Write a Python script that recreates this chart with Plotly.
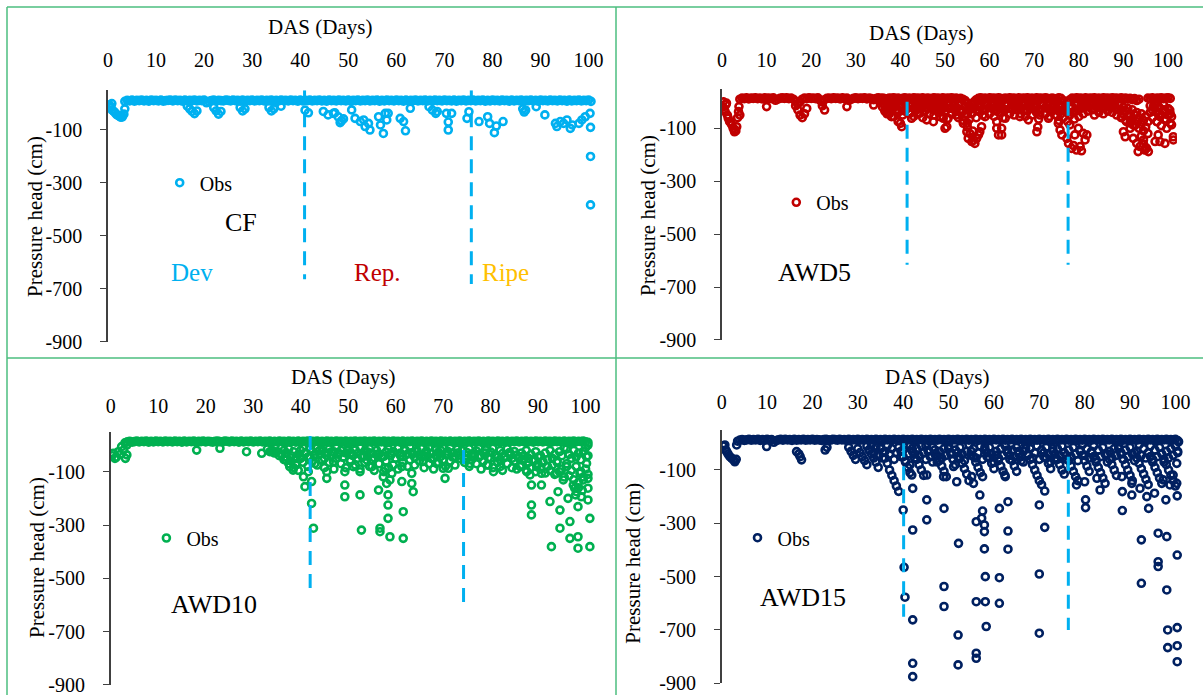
import plotly.graph_objects as go

W, H = 1203, 695
FONT = "Liberation Serif"

# ---------------- shared ticks / titles ----------------
day_ticks = [0, 10, 20, 30, 40, 50, 60, 70, 80, 90, 100]
head_ticks = [-100, -300, -500, -700, -900]
head_tick_text = ["-100", "-300", "-500", "-700", "-900"]
x_title = "DAS (Days)"
y_title = "Pressure head (cm)"

# ---------------- CF ----------------
cf_band_start = 3.5
cf_band = [8, 12, 10, 13, 9, 12, 11, 13, 10, 12, 9, 13, 11, 12, 10, 13, 9, 11, 12, 13,
           10, 13, 11, 12, 9, 13, 10, 12, 11, 13, 10, 12, 11, 13, 3, 8, 11, 13, 10, 12,
           11, 10, 13, 12, 10, 13, 11, 12, 9, 13, 10, 12, 11, 13, 10, 12, 11, 13, 10, 12,
           11, 13, 9, 12, 10, 13, 11, 12, 10, 13, 11, 12, 9, 13, 10, 12, 11, 13, 10, 12,
           11, 13, 10, 12, 9, 13, 11, 12, 10, 13, 11, 12, 10, 13, 9, 12, 11, 13, 10, 12,
           11, 13, 10, 12, 11, 13, 9, 12, 10, 13, 11, 12, 10, 13, 11, 12, 9, 13, 10, 12,
           11, 13, 10, 12, 11, 13, 10, 12, 9, 13, 11, 12, 10, 13, 11, 12, 10, 13, 9, 12,
           11, 13, 10, 12, 11, 13, 10, 12, 11, 13, 9, 12, 10, 13, 11, 12, 10, 13, 11, 12,
           9, 13, 10, 12, 11, 13, 10, 12, 11, 13, 10, 12, 9, 13, 11, 12, 10, 13, 11, 12,
           10, 13, 11, 12, 9, 13, 10, 12, 11, 13, 10, 12, 11, 13, 8]
cf_x = [0.3, 0.6, 0.8, 0.9, 1.2, 1.5, 1.8, 2.1, 2.4, 2.7, 3.0, 3.3, 3.5,
        16.5, 17, 17.5, 18, 18.5, 22, 22.5, 23, 23.5, 27.5, 28, 28.5, 33.5, 34, 34.5, 36,
        41, 41.7, 44.8, 45.8, 46.9, 47.2, 47.9, 48.3, 48.6, 49,
        50.7, 51.4, 52.5, 53.2, 53.5, 54.2, 54.5,
        56.3, 56.7, 57.3, 57.7, 58, 58.3,
        60.8, 61.5, 61.9, 62.9,
        66.8, 67.5, 68.2, 68.5,
        70.4, 70.8, 70.8, 71.5,
        74.7, 75.1,
        77.2, 79, 79.4, 80.4, 80.8, 82.2,
        86.3, 86.6, 86.9,
        89.1, 90.9,
        93.1, 93.4, 94.1, 94.8, 95.5, 96.2, 96.6,
        98, 98.6, 99.3,
        100.3, 100.4, 100.4, 100.4]
cf_y = [-5, -15, 0, -25, -30, -35, -42, -45, -48, -52, -50, -40, -20,
        -10, -20, -30, -38, -28, -15, -28, -40, -30, -15, -28, -20, -15, -28, -20, -10,
        -25, -35, -30, -43, -37, -35, -50, -72, -65, -58,
        -24, -56, -68, -62, -87, -75, -100,
        -50, -81, -113, -37, -62, -37,
        -56, -68, -103, -18,
        -12, -25, -37, -30,
        -37, -70, -100, -37,
        -56, -31,
        -68, -50, -75, -110, -85, -68,
        -20, -32, -25,
        -12, -43,
        -75, -87, -68, -75, -62, -94, -81,
        -75, -62, -50,
        -37, -90, -200, -383]
cf_stage_x = [40.9, 75.6]
cf_stage_top = [50, 50]
cf_stage_bottom = [-664, -682]

# ---------------- AWD5 ----------------
aw5_band_start = 4.0
aw5_band = [10, 14, 12, 15, 11, 14, 13, 15, 12, 14, 11, 15, 13, 14, 12, 15, 6, 10, 13, 15,
            13, 15, 12, 14, 10, 2, -8, 0, 10, 14, 12, 15, 13, 14, 12, 15, 6, 0, 8, 13,
            14, 12, 15, 13, 14, 11, 15, 12, 14, 6, 10, 13, 15, 12, 14, 13, 15, 11, 14, 12,
            8, 12, 15, 13, 14, 12, 10, 14, 13, 15, 12, 14, 10, 13, 15, 12, 14, 11, 15, 13,
            14, 12, 15, 11, 14, 13, 12, 15, 13, 14, 11, 15, 12, 14, 13, 15, 12, 14, 11, 13,
            10, 5, -5, -15, -10, 0, 8, 13, 15, 12, 14, 11, 15, 13, 14, 12, 15, 13, 11, 14,
            12, 15, 13, 14, 11, 15, 12, 14, 13, 15, 12, 14, 11, 15, 13, 14, 12, 15, 13, 11,
            14, 12, 10, 15, 13, 5, -10, 0, 8, 14, 12, 15, 13, 14, 11, 15, 12, 14, 13, 15,
            12, 14, 11, 15, 13, 14, 12, 15, 13, 14, 11, 15, 12, 14, 10, 13, 8, 12, 5, 10,
            -130, -160, -175, 14, 12, 15, 11, 14, 13, 15, 12, 14, 15, 13]
aw5_mid_start = 36.0
aw5_mid = [-20, -35, -15, -45, -25, -55, -30, -40, -20, -50, -35, -25, -45, -15, -55, -30, -40, -20, -60, -35,
           -25, -45, -15, -50, -30, -40, -20, -55, -35, -65, -25, -45, -15, -50, -60, -40, -70, -55, -80, -65,
           -45, -25, -60, -35, -20, -50, -30, -15, -45, -25, -55, -35, -20, -40, -60, -30, -15, -45, -25, -50,
           -30, -20, -45, -15, -55, -35, -25, -50, -20, -40, -65, -30, -15, -45, -25, -55, -35, -20, -50, -70,
           -45, -60, -30, -75, -50, -40, -65, -35, -55, -25, -45, -20, -35, -15, -30, -50, -20, -40, -25, -45,
           -20, -35, -15, -40, -25, -50, -30, -60, -45, -70, -55, -80, -65, -90, -75, -100, -85, -110, -95, -120,
           -40, -60, -25, -75, -45, -90, -30, -65, -50, -80]
aw5_mid2 = [-5, -15, -8, -25, -10, -20, -5, -30, -12, -18, -8, -25, -15, -5, -22, -10, -28, -6, -16, -12,
            -20, -8, -26, -12, -5, -18, -30, -10, -22, -6, -15, -25, -8, -20, -12, -28, -35, -18, -45, -30,
            -22, -10, -30, -15, -8, -25, -12, -5, -20, -10, -28, -15, -6, -22, -30, -12, -8, -25, -10, -18,
            -15, -6, -22, -10, -28, -16, -8, -24, -12, -20, -30, -10, -5, -22, -12, -28, -16, -8, -24, -35,
            -20, -30, -15, -40, -25, -18, -35, -12, -28, -10, -20, -8, -15, -5, -12, -25, -8, -18, -10, -22,
            -8, -15, -5, -20, -10, -25, -12, -30, -20, -35, -25, -45, -30, -50, -40, -60, -45, -70, -55, -75,
            -15, -30, -10, -40, -20, -50, -12, -35, -25, -45]
aw5_x = [0.2, 0.3, 0.5, 0.7, 0.9, 1.0, 1.2, 1.4, 1.7, 2.0, 2.2, 2.5, 2.8, 2.9, 3.1, 3.3, 3.5, 3.7, 3.8, 4.0,
         10, 16.5, 17, 17.5, 18, 18.5, 19, 22.5, 23, 28, 34,
         37, 38, 39.5, 40, 40.3, 42.5, 44.4, 45.9, 47.4, 48.9, 49.6, 50, 50.4, 50.7,
         54.1, 54.9, 55.2, 55.6, 56, 56.4, 56.7, 57.1, 57.5, 57.8, 58.2, 59, 55, 56.2,
         61.6, 61.6, 62, 62.7, 62.7, 63.5, 66.8, 68.7, 70.6, 70.8, 71.3, 73.2,
         75.4, 75.8, 76.2, 77.3, 77.7, 78, 78.4, 78.8, 79.1, 79.5, 79.9, 80.3, 80.6, 81, 81.4, 81.8,
         89.6, 90, 90.4, 90.7, 91.5, 92.2, 92.2, 93, 93.3, 93.7, 94.5, 94.8, 95.2, 95.6,
         96.7, 97.1, 97.5, 97.8, 98.2, 98.2, 99.3, 99.7, 100.4, 100.8, 100.8, 101.2, 101.2]
aw5_y = [-20, 0, -30, -37, -10, -5, -50, -62, -75, -80, -87, -100, -113, -105, -110, -94, -60, -37, -18, -50,
         -18, -15, -30, -50, -60, -45, -25, -15, -31, -18, -12,
         -45, -56, -75, -81, -94, -62, -43, -68, -75, -56, -62, -100, -94, -62,
         -81, -113, -138, -120, -150, -145, -157, -138, -125, -113, -94, -56, -95, -110,
         -75, -100, -125, -100, -125, -62, -56, -68, -113, -95, -50, -62,
         -81, -106, -125, -138, -157, -87, -176, -165, -125, -182, -100, -169, -185, -119, -144, -125,
         -56, -113, -132, -75, -100, -138, -87, -157, -188, -169, -144, -182, -175, -188,
         -18, -150, -75, -125, -150, -56, -157, -100, -31, -87, -56, -144, -132]
aw5_stage_x = [41.5, 77.6]
aw5_stage_top = [0, 0]
aw5_stage_bottom = [-616, -616]

# ---------------- AWD10 ----------------
aw10_band_start = 3.0
aw10_band = [8, 12, 14, 11, 13, 15, 12, 14, 13, 15, 11, 14, 12, 15, 13, 14, 12, 15, 13, 14,
             12, 15, 13, 14, 11, 15, 12, 14, 13, 15, 12, 14, 13, 15, 12, 14, 13, 11, 14, 15,
             13, 12, 15, 14, 12, 15, 13, 14, 11, 15, 12, 14, 13, 15, 12, 14, 13, 15, 12, 14,
             13, 15, 11, 14, 12, 15, 13, 14, 12, 15, 13, 14, 11, 15, 12, 14, 13, 15, 12, 14,
             13, 15, 12, 14, 11, 15, 13, 14, 12, 15, 13, 14, 12, 15, 11, 14, 13, 15, 12, 14,
             13, 15, 12, 14, 13, 15, 11, 14, 12, 15, 13, 14, 12, 15, 13, 14, 11, 15, 12, 14,
             13, 15, 12, 14, 13, 15, 12, 14, 11, 15, 13, 14, 12, 15, 13, 14, 12, 15, 11, 14,
             13, 15, 12, 14, 13, 15, 12, 14, 13, 15, 11, 14, 12, 15, 13, 14, 12, 15, 13, 14,
             11, 15, 12, 14, 13, 15, 12, 14, 13, 15, 12, 14, 11, 15, 13, 14, 12, 15, 13, 14,
             12, 15, 13, 14, 11, 15, 12, 14, 13, 15, 12, 14, 13, 15, 12, 10]
aw10_mid_start = 33.0
aw10_mid = [-15, -25, -20, -30, -25, -40, -35, -55, -45, -70, -60, -85, -75, -95, -50, -65, -30, -80, -45, -60,
            -35, -75, -20, -55, -85, -40, -65, -25, -90, -50, -30, -70, -45, -85, -20, -60, -35, -75, -50, -90,
            -40, -65, -25, -80, -55, -95, -35, -70, -45, -100, -60, -85, -30, -75, -50, -90, -40, -65, -20, -80,
            -55, -35, -75, -25, -60, -45, -85, -30, -70, -50, -90, -40, -65, -20, -55, -80, -35, -60, -45, -75,
            -30, -50, -20, -65, -40, -80, -55, -35, -70, -45, -90, -60, -30, -75, -50, -85, -40, -65, -55, -95,
            -45, -70, -35, -85, -60, -90, -50, -75, -40, -95, -65, -85, -55, -100, -70, -90, -60, -105, -80, -95,
            -75, -110, -65, -100, -90, -120, -70, -115, -95, -130, -80, -140, -100, -120, -90, -110]
aw10_mid2_start = 36.0
aw10_mid2 = [-10, -20, -30, -15, -40, -25, -50, -35, -20, -10, -30, -45, -15, -25, -40, -10, -35, -20, -50, -30,
             -15, -40, -25, -10, -35, -20, -45, -30, -12, -28, -40, -18, -32, -8, -45, -22, -38, -14, -30, -48,
             -20, -35, -10, -42, -26, -16, -38, -24, -50, -12, -30, -44, -18, -34, -8, -28, -46, -20, -36, -14,
             -40, -22, -10, -32, -48, -18, -26, -42, -12, -36, -24, -8, -30, -46, -16, -38, -20, -50, -28, -14,
             -34, -44, -22, -10, -40, -30, -18, -48, -26, -12, -36, -46, -20, -32, -42, -14, -28, -50, -24, -38,
             -45, -30, -55, -20, -50, -35, -60, -25, -45, -40, -65, -30, -55, -20, -50, -35, -60, -25, -40, -10,
             -15, -35, -50, -20, -45, -30, -55, -25, -10, -40]
aw10_x = [0.3, 0.55, 0.9, 1.2, 1.6, 2.0, 2.3, 2.7, 3.1, 3.4, 3.4,
          18.1, 23, 28.6, 31.8, 33.9, 35.6, 37, 37.7, 38.4, 39.1, 39.9, 40.6, 40.9, 41.6, 42.3, 42.3, 42.7, 43,
          45.5, 45.5, 46.9, 49.3, 49.3, 49.3, 50.4, 52.5, 52.5, 52.8, 51.1, 53.9, 55,
          56.4, 56.7, 56.7, 57.4, 57.8, 58.1, 58.4, 58.4, 58.4, 58.8, 58.8, 59.2,
          61.3, 61.6, 61.6, 61.3, 63.4, 63.7, 63.4, 65.8, 68.6, 70, 70.4, 71.1, 75.6, 79.2, 80.6, 82,
          86.2, 87.6, 88.3, 88.6, 88.6, 88.6, 90.7, 90.7, 89.7, 92.5, 92.8, 93.9, 94.2, 94.6, 94.6, 95.3, 96, 96.3,
          96.7, 96.7, 97.4, 97.7, 98.1, 98.4, 98.4, 98.4, 99.1, 99.5, 98.8, 100.2, 100.5, 100.5, 100.5,
          100.9, 100.9, 100.5, 100.2, 96.7, 97.9, 99.3, 98.5]
aw10_y = [-40, -31, -50, -45, -25, -35, -6, -19, -50, -37, 0,
          -19, -12, -25, -31, -25, -31, -56, -81, -94, -69, -44, -119, -156, -100, -137, -219, -312, -69,
          -100, -125, -62, -100, -150, -194, -56, -100, -187, -319, -81, -56, -81,
          -169, -312, -325, -119, -87, -144, -187, -225, -275, -344, -131, -106,
          -137, -250, -350, -81, -144, -175, -106, -62, -69, -87, -125, -87, -69, -75, -100, -81,
          -81, -100, -112, -150, -225, -262, -106, -150, -81, -212, -381, -106, -175, -244, -312, -131, -81, -200,
          -287, -350, -150, -162, -175, -231, -344, -387, -194, -131, -106, -69, -125, -162, -206,
          -275, -381, 0, -44, 6, -187, -170, -160]
aw10_stage_x = [42.0, 74.3]
aw10_stage_top = [34, -19]
aw10_stage_bottom = [-569, -619]

# ---------------- AWD15 ----------------
aw15_band_start = 3.5
aw15_band = [8, 12, 14, 11, 13, 15, 12, 14, 13, 15, 11, 14, 12, 15, 13, 14, 4, 10, 13, 15,
             12, 15, 13, 14, 11, 15, 12, 14, 13, 15, 12, 14, 13, 15, 12, 14, 13, 11, 14, 15,
             13, 12, 15, 14, 12, 15, 13, 14, 11, 15, 12, 14, 13, 15, 12, 14, 13, 15, 12, 14,
             13, 15, 11, 14, 12, 15, 13, 14, 12, 15, 13, 14, 11, 15, 12, 14, 13, 15, 12, 14,
             13, 15, 12, 14, 11, 15, 13, 14, 12, 15, 13, 14, 12, 15, 11, 14, 13, 15, 12, 14,
             13, 15, 12, 14, 13, 15, 11, 14, 12, 15, 13, 14, 12, 15, 13, 14, 11, 15, 12, 14,
             13, 15, 12, 14, 13, 15, 12, 14, 11, 15, 13, 14, 12, 15, 13, 14, 12, 15, 11, 14,
             13, 15, 12, 14, 13, 15, 12, 14, 13, 15, 11, 14, 12, 15, 13, 14, 12, 15, 13, 14,
             11, 15, 12, 14, 13, 15, 12, 14, 13, 15, 12, 14, 11, 15, 13, 14, 12, 15, 13, 14,
             12, 15, 13, 14, 11, 15, 12, 14, 13, 15, 12, 14, 13, 15, 10]
aw15_mid_start = 28.0
aw15_mid = [-15, -30, -45, -60, -20, -35, -50, -65, -80, -25, -40, -55, -70, -90, -15, -35, -55, -75, -100, -120,
            -140, -160, -180, -30, -50, -70, -90, -110, -20, -40, -60, -80, -100, -120, -10, -30, -50, -70, -25, -45,
            -65, -85, -105, -125, -20, -40, -60, -80, -35, -55, -75, -95, -115, -140, -30, -50, -70, -90, -110, -125,
            -15, -35, -55, -75, -95, -45, -65, -85, -105, -125, -25, -45, -65, -85, -105, -30, -50, -70, -20, -40,
            -60, -80, -100, -120, -140, -155, -35, -55, -75, -95, -20, -40, -60, -80, -100, -115, -45, -65, -85, -105,
            -125, -140, -25, -45, -65, -85, -105, -30, -50, -70, -90, -110, -130, -150, -40, -60, -80, -100, -120, -20,
            -40, -60, -80, -100, -120, -140, -35, -55, -75, -95, -115, -135, -155, -50, -70, -90, -110, -130, -150, -60,
            -80, -100, -120, -140, -160, -30]
aw15_mid2_start = 32.0
aw15_mid2 = [-10, -25, -5, -35, -15, -45, -20, -55, -30, -10, -40, -20, -60, -35, -15, -50, -25, -65, -40, -10,
             -30, -55, -20, -45, -10, -35, -60, -25, -50, -15, -40, -70, -30, -55, -20, -45, -10, -35, -60, -25,
             -50, -15, -40, -65, -30, -5, -45, -20, -55, -35, -10, -60, -25, -50, -15, -40, -70, -30, -55, -20,
             -45, -10, -35, -60, -25, -50, -15, -40, -65, -30, -5, -45, -20, -55, -35, -10, -60, -25, -50, -15,
             -40, -70, -30, -55, -20, -45, -10, -35, -60, -25, -50, -15, -40, -65, -30, -5, -45, -20, -55, -35,
             -10, -60, -25, -50, -15, -40, -70, -30, -55, -20, -45, -10, -35, -60, -25, -50, -15, -40, -65, -30,
             -5, -45, -20, -55, -35, -10, -60, -25, -50, -15, -40, -70, -30, -55, -20, -45, -10, -35]
aw15_x = [0.3, 0.7, 0.9, 1.1, 1.4, 1.8, 2.2, 2.6, 2.9, 3.2, 3.3,
          9.9, 16.5, 17, 17.3, 17.6, 22.8, 23.2,
          40, 40.2, 40.4, 42.1, 42.1, 42.1, 42.1, 42.1, 41.5, 41.9, 45.2, 45.2, 45.2, 47.4, 48.9, 49, 49, 49,
          51.1, 51.8, 52.2, 52.1, 52.1, 55.1, 55.5, 56.1, 56.1, 56.1, 56.1, 56.9, 57.5, 57.3, 57.9, 57.9, 57.9,
          58.1, 58.1, 58.3,
          61.2, 61.2, 61.2, 62.4, 63.1, 63.1, 63.1, 70, 70, 70, 71.2, 71.2, 78.2, 80, 80.2, 80.2, 82.7, 83.4,
          88.2, 88.3, 88.3, 90.4, 90.4, 92.2, 92.5, 92.5, 93.7, 94.1, 95.4, 96.2, 96.2, 96.2, 97.3, 97.9,
          98.1, 98.1, 98.3, 98.3,
          98.8, 99.5, 100.3, 100.4, 100.4, 100.4, 100.4, 100.4, 100.7, 100.3]
aw15_y = [-10, -6, -25, -31, -40, -50, -56, -62, -69, -60, -6,
          -12, -31, -40, -50, -62, -25, -15,
          -250, -465, -577, -325, -662, -825, -875, -169, -81, -119, -119, -212, -287, -56, -125, -244, -537, -612,
          -87, -144, -375, -719, -831, -125, -150, -294, -594, -787, -806, -194, -254, -281, -306, -331, -396,
          -500, -594, -687,
          -244, -504, -600, -119, -219, -329, -397, -231, -490, -712, -179, -315, -156, -144, -212, -241, -131, -175,
          -125, -181, -252, -150, -194, -169, -362, -525, -200, -244, -187, -337, -444, -462, -137, -212,
          -350, -550, -700, -766,
          -156, -119, -150, -197, -419, -691, -759, -819, 6, -75]
aw15_stage_x = [40.1, 76.4]
aw15_stage_top = [0, -50]
aw15_stage_bottom = [-650, -700]

# ---------------- panel setup (pixel geometry of the reference) ----------------
X_MAX = 102
Y_MIN, Y_MAX = -900, 50


def half_day_series(start, values):
    return [start + 0.5 * j for j in range(len(values))], list(values)


panels = [
    dict(name="CF", color="#00B0F0",
         series=[(cf_band_start, cf_band)], ex_x=cf_x, ex_y=cf_y,
         sx=cf_stage_x, st=cf_stage_top, sb=cf_stage_bottom,
         x0=108, x100=588.6, ym100=130, ym900=341.7, lab_py=70.5,
         xtitle=(320, 26.7), ytitle=(35, 217), leg=(181.7, 182.7), label=(241, 222.5)),
    dict(name="AWD5", color="#C00000",
         series=[(aw5_band_start, aw5_band), (aw5_mid_start, aw5_mid), (aw5_mid_start, aw5_mid2)],
         ex_x=aw5_x, ex_y=aw5_y,
         sx=aw5_stage_x, st=aw5_stage_top, sb=aw5_stage_bottom,
         x0=722, x100=1168, ym100=128.3, ym900=340, lab_py=71,
         xtitle=(921, 33.3), ytitle=(648, 216), leg=(798.3, 202.3), label=(814.5, 272.5)),
    dict(name="AWD10", color="#00B050",
         series=[(aw10_band_start, aw10_band), (aw10_mid_start, aw10_mid), (aw10_mid2_start, aw10_mid2)],
         ex_x=aw10_x, ex_y=aw10_y,
         sx=aw10_stage_x, st=aw10_stage_top, sb=aw10_stage_bottom,
         x0=110.7, x100=585.6, ym100=471.7, ym900=685, lab_py=417,
         xtitle=(342.5, 376.7), ytitle=(37, 558), leg=(168.4, 538), label=(213.6, 604.2)),
    dict(name="AWD15", color="#002060",
         series=[(aw15_band_start, aw15_band), (aw15_mid_start, aw15_mid), (aw15_mid2_start, aw15_mid2)],
         ex_x=aw15_x, ex_y=aw15_y,
         sx=aw15_stage_x, st=aw15_stage_top, sb=aw15_stage_bottom,
         x0=721.7, x100=1175.4, ym100=470, ym900=683.3, lab_py=413,
         xtitle=(936.7, 376.7), ytitle=(632.7, 563), leg=(759.5, 537.7), label=(803, 597.5)),
]

fig = go.Figure()
layout = dict(width=W, height=H, margin=dict(l=0, r=0, t=0, b=0, pad=0, autoexpand=False),
              paper_bgcolor="white", plot_bgcolor="white",
              font=dict(family=FONT, color="black"), annotations=[], shapes=[])

for i, p in enumerate(panels):
    k = "" if i == 0 else str(i + 1)
    xa, ya = "x" + k, "y" + k
    leg = "legend" + k

    kx = (p["x100"] - p["x0"]) / 100.0
    ky = (p["ym900"] - p["ym100"]) / 800.0

    def py(v, p=p, ky=ky):
        return p["ym100"] + (-100 - v) * ky

    xdom = [p["x0"] / W, (p["x0"] + kx * X_MAX) / W]
    ydom = [1 - py(Y_MIN) / H, 1 - py(Y_MAX) / H]

    xs, ys = [], []
    for start, vals in p["series"]:
        sx_, sy_ = half_day_series(start, vals)
        xs += sx_
        ys += sy_
    xs += p["ex_x"]
    ys += p["ex_y"]

    fig.add_trace(go.Scatter(
        x=xs, y=ys, mode="markers", name="Obs", xaxis=xa, yaxis=ya, legend=leg,
        marker=dict(symbol="circle-open", size=7, color=p["color"],
                    line=dict(width=2.6, color=p["color"])),
        hoverinfo="skip"))

    for sx, st, sb in zip(p["sx"], p["st"], p["sb"]):
        fig.add_trace(go.Scatter(
            x=[sx, sx], y=[st, sb], mode="lines", xaxis=xa, yaxis=ya, showlegend=False,
            line=dict(color="#00B0F0", width=3, dash="14px,9px"), hoverinfo="skip"))

    layout["xaxis" + k] = dict(
        domain=xdom, range=[0, X_MAX], anchor="free", position=1 - p["lab_py"] / H,
        side="top", tickvals=day_ticks, ticks="", showline=False, showgrid=False,
        zeroline=False, automargin=False, tickfont=dict(family=FONT, size=20, color="black"))
    layout["yaxis" + k] = dict(
        domain=ydom, range=[Y_MIN, Y_MAX], anchor=xa, tickvals=head_ticks, ticktext=head_tick_text,
        ticks="outside", ticklen=6, tickcolor="#404040", tickwidth=1.3,
        showline=True, linecolor="#404040", linewidth=1.5, showgrid=False, zeroline=False,
        ticklabelstandoff=14, automargin=False, ticklabeloverflow="allow",
        tickfont=dict(family=FONT, size=20, color="black"))
    layout[leg] = dict(x=(p["leg"][0] - 22) / W, y=1 - p["leg"][1] / H,
                       xanchor="left", yanchor="middle", bgcolor="rgba(0,0,0,0)",
                       borderwidth=0, itemwidth=30,
                       font=dict(family=FONT, size=20, color="black"))
    # axis titles
    layout["annotations"].append(dict(
        x=p["xtitle"][0] / W, y=1 - p["xtitle"][1] / H, xref="paper", yref="paper",
        text=x_title, showarrow=False, xanchor="center", yanchor="middle",
        font=dict(family=FONT, size=21, color="black")))
    layout["annotations"].append(dict(
        x=p["ytitle"][0] / W, y=1 - p["ytitle"][1] / H, xref="paper", yref="paper",
        text=y_title, showarrow=False, xanchor="center", yanchor="middle", textangle=-90,
        font=dict(family=FONT, size=21, color="black")))
    # panel label
    layout["annotations"].append(dict(
        x=p["label"][0] / W, y=1 - p["label"][1] / H, xref="paper", yref="paper",
        text=p["name"], showarrow=False, xanchor="center", yanchor="middle",
        font=dict(family=FONT, size=26, color="black")))

# growth stage labels (CF panel)
stage_names = ["Dev", "Rep.", "Ripe"]
stage_colors = ["#00B0F0", "#C00000", "#FFC000"]
stage_label_px = [(191.6, 272.5), (377.5, 272.5), (505.8, 272.5)]
for t, c, (lx, ly) in zip(stage_names, stage_colors, stage_label_px):
    layout["annotations"].append(dict(
        x=lx / W, y=1 - ly / H, xref="paper", yref="paper", text=t, showarrow=False,
        xanchor="center", yanchor="middle", font=dict(family=FONT, size=25, color=c)))

# green panel frame
GREEN = "#4DBE7F"
for (x0, y0, x1, y1) in [(7, 7, 7, 695), (616, 7, 616, 695), (7, 7, 1203, 7), (7, 358, 1203, 358)]:
    layout["shapes"].append(dict(type="line", xref="paper", yref="paper",
                                 x0=x0 / W, y0=1 - y0 / H, x1=x1 / W, y1=1 - y1 / H,
                                 line=dict(color=GREEN, width=1.5)))

fig.update_layout(**layout)
fig.write_html("out.html", config={"displayModeBar": False},
               post_script="document.body.style.margin='0px';")
